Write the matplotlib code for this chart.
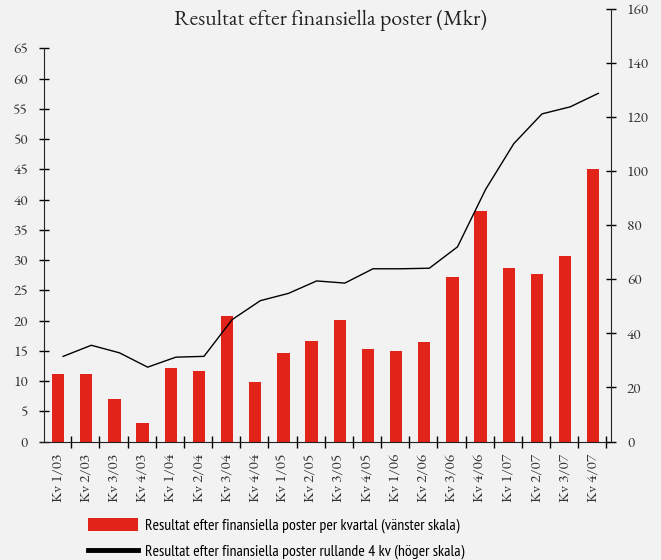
import matplotlib
matplotlib.use("Agg")
import matplotlib.pyplot as plt
from matplotlib.patches import Patch
from matplotlib.lines import Line2D

# Kvartal
quarters = ["Kv 1/03", "Kv 2/03", "Kv 3/03", "Kv 4/03",
            "Kv 1/04", "Kv 2/04", "Kv 3/04", "Kv 4/04",
            "Kv 1/05", "Kv 2/05", "Kv 3/05", "Kv 4/05",
            "Kv 1/06", "Kv 2/06", "Kv 3/06", "Kv 4/06",
            "Kv 1/07", "Kv 2/07", "Kv 3/07", "Kv 4/07"]

# Resultat per kvartal (Mkr, vanster skala)
per_quarter = [11.1, 11.1, 7.1, 3.1, 12.1, 11.6, 20.8, 9.9, 14.6, 16.6,
               20.1, 15.3, 14.9, 16.4, 27.2, 38.1, 28.7, 27.7, 30.6, 45.1]

# Rullande 4 kv (Mkr, hoger skala)
rolling_4q = [31.5, 35.6, 32.8, 27.5, 31.2, 31.5, 45.1, 52.1, 54.8, 59.4,
              58.6, 63.9, 63.9, 64.1, 72.0, 93.3, 110.2, 121.2, 123.8, 128.8]

bg = "#f2f2f2"
red = "#e2231a"
serif = ["EB Garamond", "Liberation Serif", "DejaVu Serif"]
narrow = ["PT Sans Narrow", "Liberation Sans", "DejaVu Sans"]

fig = plt.figure(figsize=(6.61, 5.6), dpi=100, facecolor=bg)
ax = fig.add_axes([44 / 661, (560 - 441.5) / 560, (611 - 44) / 661, (441.5 - 9) / 560])
ax.set_facecolor(bg)
ax2 = ax.twinx()

x = list(range(len(quarters)))
ax.bar(x, per_quarter, width=0.44, color=red, zorder=2)
ax2.plot([i + 0.18 for i in x], rolling_4q, color="black", lw=1.0, zorder=3)

ax.set_xlim(-0.5, 19.63)
ax.set_ylim(0, 71.5)
ax2.set_ylim(0, 160)

ax.spines["top"].set_visible(False)
ax2.spines["top"].set_visible(False)
ax.spines["right"].set_visible(False)
ax2.spines["left"].set_visible(False)
ax2.spines["bottom"].set_visible(False)
ax.spines["left"].set_bounds(0, 65)
ax.spines["left"].set_color("#222222")
ax2.spines["right"].set_color("#222222")
ax.spines["bottom"].set_color("#222222")
ax.spines["bottom"].set_bounds(-0.65, 19.63)

ax.set_yticks(range(0, 66, 5))
ax2.set_yticks(range(0, 161, 20))
for a in (ax, ax2):
    a.tick_params(axis="y", direction="inout", length=7, width=1, pad=8,
                  labelsize=11, labelcolor="#333333")
for lab in ax.get_yticklabels() + ax2.get_yticklabels():
    lab.set_family(serif)

# major ticks between categories, labels on minor ticks at bar centres
ax.set_xticks([i + 0.47 for i in x])
ax.set_xticklabels([])
ax.tick_params(axis="x", which="major", direction="inout", length=8, width=1)
ax.set_xticks(x, minor=True)
ax.set_xticklabels(quarters, minor=True, rotation=90, fontsize=11,
                   family=serif, color="#333333")
ax.tick_params(axis="x", which="minor", length=0, pad=9)

fig.text(0.5, 1 - 20 / 560, "Resultat efter finansiella poster (Mkr)",
         ha="center", va="center", fontsize=15.7, family=serif, color="#222222")

handles = [Patch(facecolor=red, edgecolor="none"),
           Line2D([0], [0], color="black", lw=3.5)]
labels = ["Resultat efter finansiella poster per kvartal (vänster skala)",
          "Resultat efter finansiella poster rullande 4 kv (höger skala)"]
fig.legend(handles, labels, loc="upper left",
           bbox_to_anchor=(74 / 661, 1 - 504 / 560), frameon=False,
           prop={"family": narrow, "size": 11.3},
           handlelength=3.2, handleheight=0.85, labelspacing=0.7,
           handletextpad=0.45)

fig.savefig("out.png", dpi=100, facecolor=bg)
